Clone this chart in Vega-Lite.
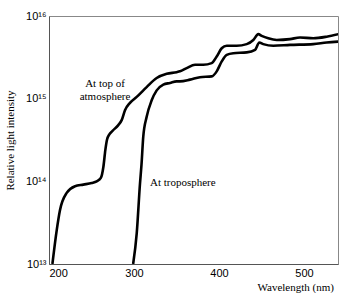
{
  "$schema": "https://vega.github.io/schema/vega-lite/v6.json",
  "width": 289,
  "height": 248,
  "autosize": "none",
  "padding": {"left": 49, "top": 16, "right": 1, "bottom": 29},
  "background": "white",
  "config": {
    "view": {"stroke": "#888", "strokeWidth": 1},
    "axis": {"grid": false, "ticks": false, "domainColor": "#555", "labelColor": "#000", "titleColor": "#000", "labelFont": "Liberation Sans", "labelFontSize": 11, "titleFont": "Liberation Serif", "titleFontSize": 11, "titleFontWeight": "normal"}
  },
  "datasets": {
    "curves": [
      {"series": "top", "wl": 204.0, "val": 1.0e13},
      {"series": "top", "wl": 209.1, "val": 2.57e13},
      {"series": "top", "wl": 212.9, "val": 4.47e13},
      {"series": "top", "wl": 220.8, "val": 7.24e13},
      {"series": "top", "wl": 230.6, "val": 8.71e13},
      {"series": "top", "wl": 240.4, "val": 9.12e13},
      {"series": "top", "wl": 250.2, "val": 9.55e13},
      {"series": "top", "wl": 256.1, "val": 1.0e14},
      {"series": "top", "wl": 261.0, "val": 1.1e14},
      {"series": "top", "wl": 264.0, "val": 1.5e14},
      {"series": "top", "wl": 266.3, "val": 2.4e14},
      {"series": "top", "wl": 268.3, "val": 3.2e14},
      {"series": "top", "wl": 271.0, "val": 3.7e14},
      {"series": "top", "wl": 275.0, "val": 4.1e14},
      {"series": "top", "wl": 281.5, "val": 4.79e14},
      {"series": "top", "wl": 285.5, "val": 5.5e14},
      {"series": "top", "wl": 289.4, "val": 7.24e14},
      {"series": "top", "wl": 295.3, "val": 8.91e14},
      {"series": "top", "wl": 303.2, "val": 1.05e15},
      {"series": "top", "wl": 314.9, "val": 1.38e15},
      {"series": "top", "wl": 326.7, "val": 1.78e15},
      {"series": "top", "wl": 338.5, "val": 2.0e15},
      {"series": "top", "wl": 350.2, "val": 2.09e15},
      {"series": "top", "wl": 354.1, "val": 2.14e15},
      {"series": "top", "wl": 362.0, "val": 2.34e15},
      {"series": "top", "wl": 371.8, "val": 2.57e15},
      {"series": "top", "wl": 381.5, "val": 2.57e15},
      {"series": "top", "wl": 391.4, "val": 2.69e15},
      {"series": "top", "wl": 397.3, "val": 3.24e15},
      {"series": "top", "wl": 403.2, "val": 4.07e15},
      {"series": "top", "wl": 409.1, "val": 4.37e15},
      {"series": "top", "wl": 420.8, "val": 4.37e15},
      {"series": "top", "wl": 432.6, "val": 4.57e15},
      {"series": "top", "wl": 440.4, "val": 5.13e15},
      {"series": "top", "wl": 446.2, "val": 6.03e15},
      {"series": "top", "wl": 450.2, "val": 5.75e15},
      {"series": "top", "wl": 458.0, "val": 5.37e15},
      {"series": "top", "wl": 467.9, "val": 5.13e15},
      {"series": "top", "wl": 483.5, "val": 5.25e15},
      {"series": "top", "wl": 495.3, "val": 5.5e15},
      {"series": "top", "wl": 510.9, "val": 5.37e15},
      {"series": "top", "wl": 526.7, "val": 5.62e15},
      {"series": "top", "wl": 540.4, "val": 6.03e15},
      {"series": "tropo", "wl": 299.0, "val": 1.0e13},
      {"series": "tropo", "wl": 303.2, "val": 2.34e13},
      {"series": "tropo", "wl": 307.1, "val": 9.55e13},
      {"series": "tropo", "wl": 308.8, "val": 1.58e14},
      {"series": "tropo", "wl": 310.9, "val": 3.47e14},
      {"series": "tropo", "wl": 314.9, "val": 6.03e14},
      {"series": "tropo", "wl": 320.8, "val": 9.55e14},
      {"series": "tropo", "wl": 326.7, "val": 1.26e15},
      {"series": "tropo", "wl": 334.5, "val": 1.48e15},
      {"series": "tropo", "wl": 342.4, "val": 1.55e15},
      {"series": "tropo", "wl": 350.2, "val": 1.62e15},
      {"series": "tropo", "wl": 354.1, "val": 1.62e15},
      {"series": "tropo", "wl": 365.9, "val": 1.70e15},
      {"series": "tropo", "wl": 377.6, "val": 1.82e15},
      {"series": "tropo", "wl": 391.4, "val": 1.86e15},
      {"series": "tropo", "wl": 397.3, "val": 2.14e15},
      {"series": "tropo", "wl": 403.2, "val": 2.82e15},
      {"series": "tropo", "wl": 409.1, "val": 3.39e15},
      {"series": "tropo", "wl": 416.8, "val": 3.55e15},
      {"series": "tropo", "wl": 432.6, "val": 3.63e15},
      {"series": "tropo", "wl": 442.4, "val": 3.89e15},
      {"series": "tropo", "wl": 447.4, "val": 4.79e15},
      {"series": "tropo", "wl": 452.1, "val": 4.57e15},
      {"series": "tropo", "wl": 463.9, "val": 4.37e15},
      {"series": "tropo", "wl": 483.5, "val": 4.47e15},
      {"series": "tropo", "wl": 510.9, "val": 4.57e15},
      {"series": "tropo", "wl": 526.7, "val": 4.79e15},
      {"series": "tropo", "wl": 540.4, "val": 4.90e15}
    ],
    "labels": [
      {"wl": 265.9, "val": 1.5e15, "label": ["At top of", "atmosphere"], "align": "center"},
      {"wl": 318.8, "val": 9.5e13, "label": ["At troposphere"], "align": "left"}
    ]
  },
  "layer": [
    {
      "data": {"name": "curves"},
      "mark": {"type": "line", "color": "#000", "strokeWidth": 2.6, "interpolate": "monotone", "clip": true},
      "encoding": {
        "x": {"field": "wl", "type": "quantitative", "scale": {"domain": [200, 540], "nice": false, "zero": false}, "axis": {"values": [200, 300, 400, 500], "title": "Wavelength (nm)", "titleAnchor": "start", "titleAlign": "left", "titleX": 208, "titleY": 26, "titleBaseline": "alphabetic", "labelPadding": 3}},
        "y": {"field": "val", "type": "quantitative", "scale": {"type": "log", "domain": [1e13, 1e16], "nice": false}, "axis": {"values": [1e13, 1e14, 1e15, 1e16], "labelExpr": "datum.value >= 1e16 ? '10¹⁶' : datum.value >= 1e15 ? '10¹⁵' : datum.value >= 1e14 ? '10¹⁴' : '10¹³'", "title": "Relative light intensity", "titleX": -34, "labelPadding": 3}},
        "detail": {"field": "series", "type": "nominal"}
      }
    },
    {
      "data": {"name": "labels"},
      "transform": [{"filter": "datum.align == 'center'"}],
      "mark": {"type": "text", "font": "Liberation Serif", "fontSize": 11, "align": "center", "baseline": "middle", "lineHeight": 13, "color": "#000"},
      "encoding": {
        "x": {"field": "wl", "type": "quantitative"},
        "y": {"field": "val", "type": "quantitative"},
        "text": {"field": "label"}
      }
    },
    {
      "data": {"name": "labels"},
      "transform": [{"filter": "datum.align == 'left'"}],
      "mark": {"type": "text", "font": "Liberation Serif", "fontSize": 11, "align": "left", "baseline": "middle", "color": "#000"},
      "encoding": {
        "x": {"field": "wl", "type": "quantitative"},
        "y": {"field": "val", "type": "quantitative"},
        "text": {"field": "label"}
      }
    }
  ]
}
